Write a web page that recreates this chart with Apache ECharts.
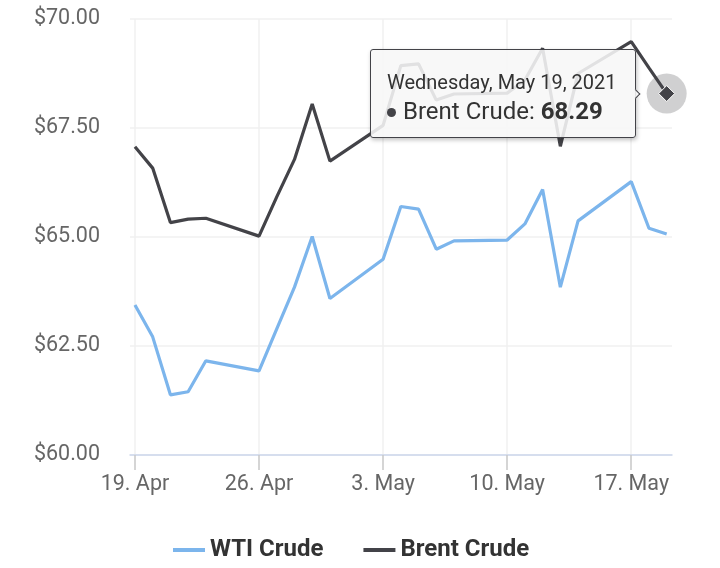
<!DOCTYPE html>
<html>
<head>
    <meta charset="utf-8">
    <title>WTI vs Brent Crude</title>
    <script src="https://cdn.jsdelivr.net/npm/echarts/dist/echarts.min.js"></script>
    <style>
        html, body { margin: 0; padding: 0; background: #fff; }
        #main { width: 720px; height: 568px; }
    </style>
</head>
<body>
    <div id="main"></div>
    <script>
        // trading days shown on the chart
        var dates = [
            '2021-04-19', '2021-04-20', '2021-04-21', '2021-04-22', '2021-04-23',
            '2021-04-26', '2021-04-27', '2021-04-28', '2021-04-29', '2021-04-30',
            '2021-05-03', '2021-05-04', '2021-05-05', '2021-05-06', '2021-05-07',
            '2021-05-10', '2021-05-11', '2021-05-12', '2021-05-13', '2021-05-14',
            '2021-05-17', '2021-05-18', '2021-05-19'
        ];
        var wti = [
            63.44, 62.71, 61.38, 61.45, 62.16,
            61.93, 62.89, 63.85, 65.01, 63.59,
            64.49, 65.70, 65.64, 64.72, 64.91,
            64.93, 65.30, 66.09, 63.85, 65.37,
            66.27, 65.20, 65.07
        ];
        var brent = [
            67.07, 66.58, 65.33, 65.41, 65.43,
            65.02, 65.92, 66.78, 68.05, 66.74,
            67.56, 68.93, 68.97, 68.14, 68.28,
            68.30, 68.60, 69.33, 67.08, 68.75,
            69.48, 68.88, 68.29
        ];
        var tickDates = ['2021-04-19', '2021-04-26', '2021-05-03', '2021-05-10', '2021-05-17'];
        var yTicks = [60, 62.5, 65, 67.5, 70];

        var DAY = 24 * 3600 * 1000;
        var MONTHS = ['Jan', 'Feb', 'Mar', 'Apr', 'May', 'Jun', 'Jul', 'Aug', 'Sep', 'Oct', 'Nov', 'Dec'];
        var MONTHS_LONG = ['January', 'February', 'March', 'April', 'May', 'June', 'July',
            'August', 'September', 'October', 'November', 'December'];
        var WEEKDAYS = ['Sunday', 'Monday', 'Tuesday', 'Wednesday', 'Thursday', 'Friday', 'Saturday'];

        function toDate(s) {
            var p = s.split('-');
            return new Date(+p[0], +p[1] - 1, +p[2]);
        }
        var start = toDate(dates[0]);
        // x value = days since the first date
        function toDay(s) {
            return Math.round((toDate(s) - start) / DAY);
        }
        function dayToDate(x) {
            return new Date(start.getFullYear(), start.getMonth(), start.getDate() + Math.round(x));
        }

        var days = dates.map(toDay);
        var tickDays = tickDates.map(toDay);
        var last = dates.length - 1;

        var wtiData = days.map(function (x, i) { return [x, wti[i]]; });
        var brentData = days.map(function (x, i) { return [x, brent[i]]; });
        // the hovered point gets a diamond marker
        brentData[last] = {
            value: [days[last], brent[last]],
            symbol: 'diamond',
            symbolSize: 16,
            itemStyle: { color: '#434348', borderColor: '#ffffff', borderWidth: 1 }
        };

        var font = 'Roboto, "Open Sans", sans-serif';

        var chart = echarts.init(document.getElementById('main'));

        var option = {
            animation: false,
            textStyle: { fontFamily: font },
            grid: { left: 130, right: 48, top: 19, bottom: 113 },
            tooltip: {
                trigger: 'item',
                triggerOn: 'none',
                alwaysShowContent: true,
                position: 'left',
                transitionDuration: 0,
                backgroundColor: 'rgba(247,247,247,0.88)',
                borderColor: '#434348',
                borderWidth: 1,
                borderRadius: 3,
                padding: [19, 18, 10, 16],
                extraCssText: 'margin-left:-12px; box-shadow: 1px 2px 4px rgba(0,0,0,0.25);',
                formatter: function (p) {
                    var d = dayToDate(p.value[0]);
                    var head = WEEKDAYS[d.getDay()] + ', ' + MONTHS_LONG[d.getMonth()] + ' ' +
                        d.getDate() + ', ' + d.getFullYear();
                    return '<div style="font-family:Roboto;font-size:20px;line-height:26px;color:#333">' + head + '</div>' +
                        '<div style="font-family:Roboto;font-size:24px;line-height:32px;color:#333">' +
                        '<span style="display:inline-block;width:9px;height:9px;border-radius:50%;' +
                        'background:#434348;margin-right:7px;vertical-align:middle"></span>' +
                        p.seriesName + ': <b>' + p.value[1].toFixed(2) + '</b></div>';
                }
            },
            legend: {
                left: 168,
                top: 533,
                itemWidth: 32,
                itemHeight: 4,
                itemGap: 40,
                icon: 'rect',
                textStyle: { fontFamily: font, fontSize: 24, fontWeight: 'bold', color: '#333333' },
                data: ['WTI Crude', 'Brent Crude']
            },
            xAxis: {
                type: 'value',
                min: days[0] - 0.28,
                max: days[last] + 0.3,
                axisLine: { lineStyle: { color: '#ccd6eb', width: 1.5 } },
                axisTick: { length: 15, lineStyle: { color: '#c8c8c8', width: 1.5 }, customValues: tickDays },
                splitLine: { show: true, lineStyle: { color: '#f0f0f0', width: 1.5 } },
                axisLabel: {
                    customValues: tickDays,
                    margin: 19,
                    fontSize: 21.5,
                    color: '#666666',
                    formatter: function (v) {
                        var d = dayToDate(v);
                        return d.getDate() + '. ' + MONTHS[d.getMonth()];
                    }
                }
            },
            yAxis: {
                type: 'value',
                min: yTicks[0],
                max: yTicks[yTicks.length - 1],
                interval: 2.5,
                axisLine: { show: false },
                axisTick: { show: false },
                splitLine: { lineStyle: { color: '#f0f0f0', width: 1.5 } },
                axisLabel: {
                    margin: 30,
                    fontSize: 21.5,
                    padding: [4, 0, 0, 0],
                    color: '#666666',
                    formatter: function (v) { return '$' + v.toFixed(2); }
                }
            },
            series: [
                {
                    name: 'WTI Crude',
                    type: 'line',
                    data: wtiData,
                    symbol: 'none',
                    color: '#7cb5ec',
                    lineStyle: { width: 3.2 },
                    emphasis: { disabled: true }
                },
                {
                    name: 'Brent Crude',
                    type: 'line',
                    data: brentData,
                    symbol: 'none',
                    color: '#434348',
                    lineStyle: { width: 3.2 },
                    emphasis: { disabled: true },
                    markPoint: {
                        silent: true,
                        z: 1,
                        symbol: 'circle',
                        symbolSize: 40,
                        label: { show: false },
                        itemStyle: { color: 'rgba(67,67,72,0.25)' },
                        data: [{ coord: [days[last], brent[last]] }]
                    }
                }
            ]
        };

        chart.setOption(option);
        chart.dispatchAction({ type: 'showTip', seriesIndex: 1, dataIndex: last });
    </script>
</body>
</html>
